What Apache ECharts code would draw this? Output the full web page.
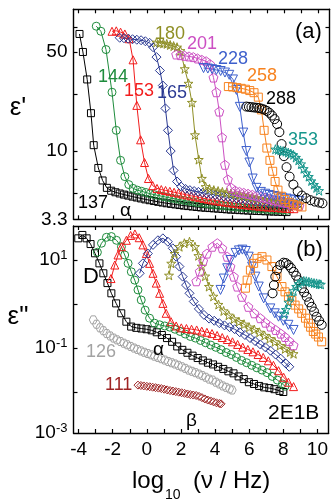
<!DOCTYPE html>
<html><head><meta charset="utf-8">
<script src="https://cdn.jsdelivr.net/npm/echarts@6/dist/echarts.min.js"></script>
<style>html,body{margin:0;padding:0;background:#fff}#c{width:331px;height:501px}</style>
</head><body><div id="c"></div>
<script>
// ---------- data: panel (a) epsilon' ----------
const xTicks = [-4,-3,-2,-1,0,1,2,3,4,5,6,7,8,9,10];
const xLabels = [-4,-2,0,2,4,6,8,10];
const yTopLabels = [3.3, 10, 50];
const yTopTicks = [5, 7.5, 10, 25, 50, 75];
const yBotLabels = [0.0012, 0.1, 10];
const yBotTicks = [0.01, 0.1, 1, 10];

const e137 = [[-3.95,67],[-3.75,50],[-3.5,32],[-3.28,18.5],[-3.12,11],[-2.85,7.6],[-2.6,6.2],[-2.35,5.5],[-2.1,5.25],[-1.85,5.12],[-1.6,5.02],[-1.35,4.93],[-1.1,4.85],[-0.85,4.77],[-0.6,4.7],[-0.35,4.63],[-0.1,4.56],[0.15,4.5],[0.4,4.44],[0.65,4.38],[0.9,4.33],[1.15,4.28],[1.4,4.24],[1.65,4.2],[1.9,4.16],[2.15,4.12],[2.4,4.09],[2.65,4.06],[2.9,4.03],[3.15,4.0],[3.4,3.98],[3.65,3.96],[3.9,3.94],[4.15,3.92],[4.4,3.9],[4.65,3.88],[4.9,3.86],[5.15,3.85],[5.4,3.83],[5.65,3.82],[5.9,3.8],[6.15,3.79],[6.4,3.78],[6.65,3.77],[6.9,3.76],[7.15,3.75],[7.4,3.74],[7.65,3.73],[7.9,3.72],[8.15,3.71]];
const e144 = [[-2.97,76],[-2.7,70],[-2.4,52],[-2.05,26],[-1.8,14],[-1.55,8.6],[-1.3,6.6],[-1.07,5.8],[-0.82,5.45],[-0.57,5.3],[-0.32,5.2],[-0.07,5.1],[0.18,5.0],[0.43,4.92],[0.68,4.85],[0.93,4.78],[1.18,4.71],[1.43,4.65],[1.68,4.59],[1.93,4.53],[2.18,4.48],[2.43,4.43],[2.68,4.38],[2.93,4.33],[3.18,4.29],[3.43,4.25],[3.68,4.21],[3.93,4.17],[4.18,4.14],[4.43,4.11],[4.68,4.08],[4.93,4.05],[5.18,4.02],[5.43,4.0],[5.68,3.98],[5.93,3.96],[6.18,3.94],[6.43,3.92],[6.68,3.9],[6.93,3.88],[7.18,3.86],[7.43,3.85],[7.68,3.84],[7.93,3.83],[8.18,3.82]];
const e153 = [[-2.05,70],[-1.8,70.5],[-1.55,69],[-1.3,67],[-1.05,62],[-0.82,44],[-0.6,21],[-0.38,12],[-0.15,8.3],[0.08,6.4],[0.33,5.7],[0.58,5.45],[0.83,5.35],[1.08,5.27],[1.33,5.2],[1.58,5.12],[1.83,5.05],[2.08,4.97],[2.33,4.9],[2.58,4.83],[2.83,4.76],[3.08,4.69],[3.33,4.63],[3.58,4.57],[3.83,4.51],[4.08,4.46],[4.33,4.41],[4.58,4.36],[4.83,4.32],[5.08,4.28],[5.33,4.24],[5.58,4.2],[5.83,4.17],[6.08,4.14],[6.33,4.11],[6.58,4.08],[6.83,4.05],[7.08,4.03],[7.33,4.01],[7.58,3.99],[7.83,3.97],[8.08,3.95],[8.33,3.93],[8.58,3.92]];
const e165 = [[-1.6,63],[-1.35,62.5],[-1.1,62],[-0.85,61.5],[-0.6,61],[-0.35,60.5],[-0.1,59.5],[0.15,58],[0.35,54],[0.55,46],[0.75,37],[0.92,29],[1.07,20],[1.22,14],[1.38,10],[1.55,7.3],[1.75,6.1],[2.0,5.6],[2.25,5.4],[2.5,5.3],[2.75,5.22],[3.0,5.15],[3.25,5.08],[3.5,5.01],[3.75,4.95],[4.0,4.89],[4.25,4.83],[4.5,4.77],[4.75,4.72],[5.0,4.67],[5.25,4.62],[5.5,4.57],[5.75,4.53],[6.0,4.49],[6.25,4.45],[6.5,4.41],[6.75,4.37],[7.0,4.33],[7.25,4.3],[7.5,4.27],[7.75,4.24],[8.0,4.21],[8.25,4.18],[8.5,4.15],[8.75,4.12]];
const e180 = [[0.55,58.5],[0.75,58],[0.95,57.5],[1.15,57],[1.35,56],[1.55,55],[1.75,54],[1.95,51],[2.2,38],[2.42,30],[2.62,22],[2.8,13],[3.02,8.7],[3.2,6.4],[3.42,5.6],[3.65,5.4],[3.9,5.3],[4.15,5.22],[4.4,5.15],[4.65,5.08],[4.9,5.02],[5.15,4.96],[5.4,4.9],[5.65,4.84],[5.9,4.78],[6.15,4.72],[6.4,4.66],[6.65,4.6],[6.9,4.55],[7.15,4.5],[7.4,4.45],[7.65,4.4],[7.9,4.35],[8.15,4.31],[8.4,4.27],[8.65,4.23],[8.9,4.2]];
const e201 = [[1.7,48],[1.95,47.5],[2.2,47],[2.45,46.5],[2.7,46],[2.95,45],[3.2,44],[3.45,43],[3.68,41],[3.88,33],[4.05,26],[4.22,19],[4.38,12.5],[4.55,8.0],[4.72,6.3],[4.92,5.5],[5.15,5.25],[5.4,5.15],[5.65,5.07],[5.9,4.99],[6.15,4.91],[6.4,4.83],[6.65,4.75],[6.9,4.67],[7.15,4.59],[7.4,4.51],[7.65,4.43],[7.9,4.36],[8.15,4.29],[8.4,4.22],[8.65,4.16],[8.9,4.1]];
const e228 = [[3.3,38.5],[3.55,38.2],[3.8,37.8],[4.05,37.3],[4.3,36.7],[4.55,35.8],[4.8,34.5],[5.02,32],[5.22,27],[5.42,20.5],[5.62,13.5],[5.8,10],[5.98,8.3],[6.17,6.4],[6.4,5.5],[6.65,5.15],[6.9,5.0],[7.15,4.9],[7.4,4.82],[7.65,4.75],[7.9,4.68],[8.15,4.62],[8.4,4.56],[8.65,4.5],[8.9,4.45]];
const e258 = [[4.75,28.5],[5.0,28.3],[5.25,28],[5.5,27.7],[5.75,27.3],[6.0,26.7],[6.25,25.8],[6.5,24],[6.68,19.5],[6.84,14],[7.0,10.5],[7.18,8.6],[7.34,7.2],[7.48,6.1],[7.65,5.3],[7.85,4.8],[8.05,4.55],[8.3,4.35],[8.55,4.2],[8.8,4.1],[9.05,4.03]];
const e288 = [[5.8,20.6],[5.95,20.5],[6.1,20.4],[6.25,20.3],[6.4,20.2],[6.55,20.1],[6.7,19.9],[6.85,19.6],[7.0,19.2],[7.15,18.6],[7.3,17.8],[7.45,16.8],[7.6,15.5],[7.73,13.6],[7.86,11.2],[8.0,9.2],[8.15,7.7],[8.33,6.6],[8.55,5.8],[8.8,5.2],[9.05,4.85],[9.3,4.65],[9.55,4.5],[9.8,4.4],[10.05,4.33],[10.25,4.28]];
const e353 = [[7.5,10.3],[7.65,10.2],[7.8,10.1],[7.95,10.0],[8.1,9.9],[8.25,9.75],[8.4,9.6],[8.55,9.4],[8.7,9.0],[8.85,8.6],[9.0,8.1],[9.15,7.5],[9.3,7.0],[9.45,6.6],[9.6,6.15],[9.75,5.8],[9.9,5.5],[10.05,5.25]];

// ---------- data: panel (b) epsilon'' ----------
const b111 = [[-0.52,0.0146],[-0.35,0.0143],[-0.18,0.014],[0.0,0.0137],[0.17,0.0134],[0.34,0.0131],[0.51,0.0128],[0.68,0.0125],[0.85,0.0122],[1.02,0.0118],[1.19,0.0114],[1.36,0.011],[1.53,0.0107],[1.7,0.0104],[1.87,0.0101],[2.04,0.0098],[2.21,0.0095],[2.38,0.0092],[2.55,0.0089],[2.72,0.0087],[2.89,0.0085],[3.06,0.0081],[3.23,0.0076],[3.4,0.0071],[3.57,0.0067],[3.74,0.0064],[3.91,0.0061],[4.08,0.0058],[4.25,0.0056],[4.35,0.0055]];
const b126 = [[-3.14,0.44],[-2.95,0.35],[-2.75,0.29],[-2.55,0.25],[-2.35,0.215],[-2.15,0.19],[-1.95,0.17],[-1.75,0.155],[-1.55,0.142],[-1.35,0.13],[-1.15,0.12],[-0.95,0.11],[-0.75,0.101],[-0.55,0.094],[-0.35,0.087],[-0.15,0.081],[0.05,0.076],[0.25,0.071],[0.45,0.066],[0.65,0.062],[0.85,0.058],[1.05,0.054],[1.25,0.05],[1.45,0.047],[1.65,0.044],[1.85,0.041],[2.05,0.038],[2.25,0.035],[2.45,0.032],[2.65,0.03],[2.85,0.028],[3.05,0.026],[3.25,0.024],[3.45,0.022],[3.65,0.02],[3.85,0.019],[4.05,0.017],[4.25,0.0155],[4.45,0.014],[4.65,0.013],[4.85,0.012],[5.0,0.0113]];
const b137 = [[-4.02,31],[-3.78,37],[-3.53,31],[-3.3,23],[-3.04,14.2],[-2.78,8.4],[-2.55,5],[-2.31,3.0],[-2.08,1.76],[-1.8,1.04],[-1.5,0.62],[-1.2,0.4],[-0.92,0.31],[-0.62,0.29],[-0.32,0.28],[-0.02,0.27],[0.28,0.255],[0.58,0.23],[0.88,0.2],[1.18,0.17],[1.48,0.14],[1.78,0.11],[2.08,0.092],[2.38,0.079],[2.68,0.068],[2.98,0.06],[3.28,0.053],[3.58,0.047],[3.88,0.043],[4.18,0.038],[4.48,0.034],[4.78,0.03],[5.08,0.027],[5.38,0.023],[5.68,0.02],[5.98,0.017],[6.28,0.0155],[6.58,0.014],[6.88,0.013],[7.18,0.0125],[7.48,0.0118],[7.78,0.0108],[8.0,0.0102]];
const b144 = [[-2.9,15],[-2.66,24],[-2.37,32.7],[-2.08,34],[-1.78,28],[-1.49,20],[-1.3,13],[-1.1,8.4],[-0.91,5.4],[-0.71,3.5],[-0.52,2.1],[-0.33,1.24],[-0.1,0.73],[0.16,0.48],[0.45,0.37],[0.75,0.34],[1.05,0.32],[1.35,0.3],[1.65,0.27],[1.95,0.24],[2.25,0.21],[2.55,0.185],[2.85,0.17],[3.15,0.15],[3.45,0.133],[3.75,0.118],[4.05,0.105],[4.35,0.093],[4.65,0.08],[4.95,0.072],[5.25,0.062],[5.55,0.053],[5.85,0.047],[6.15,0.041],[6.45,0.036],[6.75,0.032],[7.05,0.028],[7.35,0.023],[7.65,0.019],[7.95,0.0155],[8.1,0.0138]];
const b153 = [[-2.1,3.8],[-1.88,7.7],[-1.69,13],[-1.49,20],[-1.2,28],[-0.95,36],[-0.7,39],[-0.45,32],[-0.23,22],[-0.03,14],[0.16,8.4],[0.36,5],[0.55,3],[0.75,1.76],[0.94,1.04],[1.13,0.62],[1.42,0.4],[1.72,0.32],[2.02,0.29],[2.32,0.28],[2.62,0.27],[2.92,0.26],[3.22,0.245],[3.52,0.23],[3.82,0.215],[4.12,0.195],[4.42,0.175],[4.72,0.158],[5.02,0.14],[5.32,0.122],[5.62,0.106],[5.92,0.094],[6.22,0.083],[6.52,0.072],[6.82,0.062],[7.12,0.052],[7.42,0.041],[7.72,0.031],[8.02,0.022],[8.3,0.017],[8.6,0.0135]];
const b165 = [[-0.42,5.0],[-0.23,8.4],[0.06,14],[0.36,22],[0.65,28],[0.94,31],[1.23,26],[1.52,18.4],[1.72,11.9],[1.91,7.1],[2.1,4.2],[2.3,2.7],[2.5,1.76],[2.75,1.15],[3.05,0.78],[3.35,0.57],[3.65,0.47],[3.95,0.42],[4.25,0.37],[4.55,0.33],[4.85,0.3],[5.15,0.27],[5.45,0.23],[5.75,0.2],[6.05,0.17],[6.35,0.145],[6.65,0.122],[6.95,0.105],[7.25,0.088],[7.55,0.072],[7.85,0.058],[8.15,0.045],[8.35,0.038]];
const b180 = [[1.3,4.5],[1.43,8.4],[1.62,14],[1.91,20],[2.2,24],[2.5,26],[2.82,20],[3.02,12.5],[3.22,7.2],[3.42,4.3],[3.64,2.5],[3.9,1.5],[4.2,0.98],[4.5,0.7],[4.8,0.56],[5.1,0.46],[5.4,0.4],[5.7,0.35],[6.0,0.3],[6.3,0.265],[6.6,0.23],[6.9,0.195],[7.2,0.165],[7.5,0.14],[7.8,0.115],[8.1,0.097],[8.4,0.082],[8.6,0.075]];
const b201 = [[2.9,3.3],[3.1,5.5],[3.3,9.5],[3.52,14],[3.84,20],[4.13,24],[4.42,18.4],[4.71,11.9],[4.9,7.1],[5.1,4.2],[5.3,2.5],[5.58,1.47],[5.95,0.87],[6.3,0.62],[6.65,0.48],[6.95,0.38],[7.25,0.31],[7.55,0.26],[7.85,0.215],[8.1,0.18],[8.35,0.145],[8.6,0.117]];
const b228 = [[4.32,2.1],[4.51,3.8],[4.71,6.5],[4.9,10],[5.2,14.5],[5.4,16.5],[5.6,17.2],[5.8,16],[5.97,11.9],[6.17,7.1],[6.36,4.2],[6.56,2.5],[6.85,1.35],[7.24,0.8],[7.5,0.62],[7.72,0.52],[8.0,0.42],[8.3,0.34],[8.6,0.26]];
const b258 = [[5.78,2.3],[5.88,3.5],[6.07,5.9],[6.26,8.4],[6.46,10.9],[6.75,11.9],[7.04,10],[7.33,7.1],[7.63,4.2],[7.92,2.5],[8.1,1.9],[8.3,1.47],[8.5,1.2],[8.69,0.95],[8.9,0.78],[9.08,0.62],[9.3,0.48],[9.47,0.37],[9.6,0.3],[9.76,0.24],[9.9,0.21],[10.06,0.18],[10.25,0.14]];
const b288 = [[7.37,1.76],[7.45,2.7],[7.53,4.2],[7.63,5.9],[7.82,7.7],[8.01,8.7],[8.15,8.5],[8.3,7.7],[8.45,6.6],[8.6,5.4],[8.75,4.4],[8.89,3.5],[9.08,2.3],[9.22,1.85],[9.37,1.47],[9.52,1.1],[9.66,0.87],[9.8,0.68],[9.95,0.52],[10.1,0.42],[10.25,0.34]];
const b353 = [[8.05,0.6],[8.15,0.75],[8.3,1.1],[8.45,1.5],[8.6,2.0],[8.75,2.5],[8.9,2.9],[9.05,3.2],[9.2,3.35],[9.35,3.3],[9.5,3.2],[9.65,3.1],[9.8,3.0],[9.95,2.95],[10.1,2.85],[10.2,2.8]];

// ---------- styling ----------
const FONT = 'Liberation Sans, Arial, Helvetica, sans-serif';
const C = {k:'#000000', g:'#1e8c3c', r:'#f21d1d', n:'#2b3a93', o:'#8f8f25', m:'#cc4fc3', b:'#3d5fcc', or:'#f7821e', t:'#16968c', gy:'#a3a3a3', dr:'#9e2424'};
const SYM = {
  sq:'rect', ci:'circle', tr:'triangle', di:'diamond',
  star:'path://M0,-10L2.35,-3.24L9.51,-3.09L3.8,1.24L5.88,8.09L0,4L-5.88,8.09L-3.8,1.24L-9.51,-3.09L-2.35,-3.24Z',
  pent:'path://M0,-10L9.51,-3.09L5.88,8.09L-5.88,8.09L-9.51,-3.09Z',
  tdn:'path://M-10,-8L10,-8L0,9Z',
  hex:'path://M-5,-8.66L5,-8.66L10,0L5,8.66L-5,8.66L-10,0Z'
};
function mk(data, color, sym, size, panel, line){
  return {type:'line', data, xAxisIndex: panel*2, yAxisIndex: panel*2,
    symbol: SYM[sym], symbolSize: size, showSymbol:true, showAllSymbol:true,
    lineStyle:{color, width: line?1:0, opacity: line?1:0},
    itemStyle:{color:'rgba(0,0,0,0)', borderColor:color, borderWidth:1},
    emphasis:{disabled:true}, silent:true, clip:true, animation:false};
}
const series = [
  mk(e137,C.k,'sq',7,0,1), mk(e144,C.g,'ci',8,0,1), mk(e153,C.r,'tr',8,0,1), mk(e165,C.n,'di',9,0,1),
  mk(e180,C.o,'star',9,0,1), mk(e201,C.m,'pent',9,0,1), mk(e228,C.b,'tdn',9,0,1), mk(e258,C.or,'sq',8,0,1),
  mk(e288,C.k,'ci',9,0,0), mk(e353,C.t,'star',9,0,1),
  mk(b111,C.dr,'di',8,1,0), mk(b126,C.gy,'hex',8,1,0),
  mk(b137,C.k,'sq',7,1,1), mk(b144,C.g,'ci',8,1,1), mk(b153,C.r,'tr',8,1,1), mk(b165,C.n,'di',9,1,1),
  mk(b180,C.o,'star',9,1,1), mk(b201,C.m,'pent',9,1,1), mk(b228,C.b,'tdn',9,1,1), mk(b258,C.or,'sq',8,1,1),
  mk(b288,C.k,'ci',9,1,0), mk(b353,C.t,'star',9,1,1)
];

const axLine = {show:true, onZero:false, lineStyle:{color:'#000', width:1.4}};
function xAx(grid, pos, labels){
  return {type:'value', gridIndex:grid, position:pos, min:-4.3, max:10.66,
    axisLine:axLine, splitLine:{show:false},
    axisTick:{show:true, inside:true, length:4, lineStyle:{color:'#000', width:1.2}, customValues:xTicks},
    axisLabel: labels ? {show:true, customValues:xLabels, fontSize:19, fontFamily:FONT, color:'#000', margin:7,
      formatter:v=>String(v)} : {show:false}};
}
function yAx(grid, pos, min, max, ticks, labelVals, fmt, rich){
  const lab = labelVals ? {show:true, customValues:labelVals, fontSize:19, fontFamily:FONT, color:'#000', margin:6, formatter:fmt, rich:rich} : {show:false};
  return {type:'log', logBase:10, gridIndex:grid, position:pos, min, max,
    axisLine:axLine, splitLine:{show:false},
    axisTick:{show:true, inside:true, length:4, lineStyle:{color:'#000', width:1.2}, customValues:ticks},
    axisLabel:lab};
}
const supRich = {b:{fontSize:19, fontFamily:FONT, color:'#000', lineHeight:22}, s:{fontSize:13, fontFamily:FONT, color:'#000', lineHeight:12, verticalAlign:'top'}};
const botFmt = v => '{b|10}{s|' + Math.round(Math.log10(v)) + '}';
const topFmt = v => String(v);

function txt(t, x, y, color, size, align){
  return {type:'text', silent:true, style:{text:t, x, y, fill:color||'#000', font: (size||18)+'px '+FONT,
    fontSize:size||18, fontFamily:FONT, textAlign:align||'left', align:align||'left', textVerticalAlign:'middle', verticalAlign:'middle'}, z:100};
}
const graphics = [
  txt("ε'", 18, 108, '#000', 26, 'center'),
  txt('ε"', 18, 317, '#000', 26, 'center'),
  txt('log', 132, 481, '#000', 24),
  txt('10', 165, 495, '#000', 14),
  txt('(ν / Hz)', 193, 481, '#000', 24),
  txt('(a)', 295, 32, '#000', 22), txt('(b)', 296, 250, '#000', 22),
  txt('137', 78, 203, C.k, 18), txt('α', 120, 211, '#000', 19),
  txt('144', 98, 77, C.g, 18), txt('153', 124, 91, C.r, 18), txt('165', 157, 93, C.n, 18),
  txt('180', 155, 34, C.o, 18), txt('201', 187, 44, C.m, 18), txt('228', 218, 59, C.b, 18),
  txt('258', 247, 76, C.or, 18), txt('288', 266, 99, C.k, 18), txt('353', 288, 140, C.t, 18),
  txt('D', 83, 277, '#000', 22), txt('126', 86, 352, C.gy, 18), txt('α', 153, 350, '#000', 19),
  txt('111', 105, 385, C.dr, 18), txt('β', 186, 421, '#000', 19), txt('2E1B', 268, 413, '#000', 21)
];

const chart = echarts.init(document.getElementById('c'), null, {renderer:'canvas'});
chart.setOption({
  animation:false, backgroundColor:'#fff',
  grid:[{left:73.5, top:9.3, width:256, height:210}, {left:73.5, top:226, width:256, height:207}],
  xAxis:[xAx(0,'bottom',false), xAx(0,'top',false), xAx(1,'bottom',true), xAx(1,'top',false)],
  yAxis:[yAx(0,'left',3.3,100,yTopTicks,yTopLabels,topFmt), yAx(0,'right',3.3,100,yTopTicks,null),
         yAx(1,'left',0.0012,59,yBotTicks,yBotLabels,botFmt,supRich), yAx(1,'right',0.0012,59,yBotTicks,null)],
  series, graphic:{elements:graphics}
});
</script></body></html>
